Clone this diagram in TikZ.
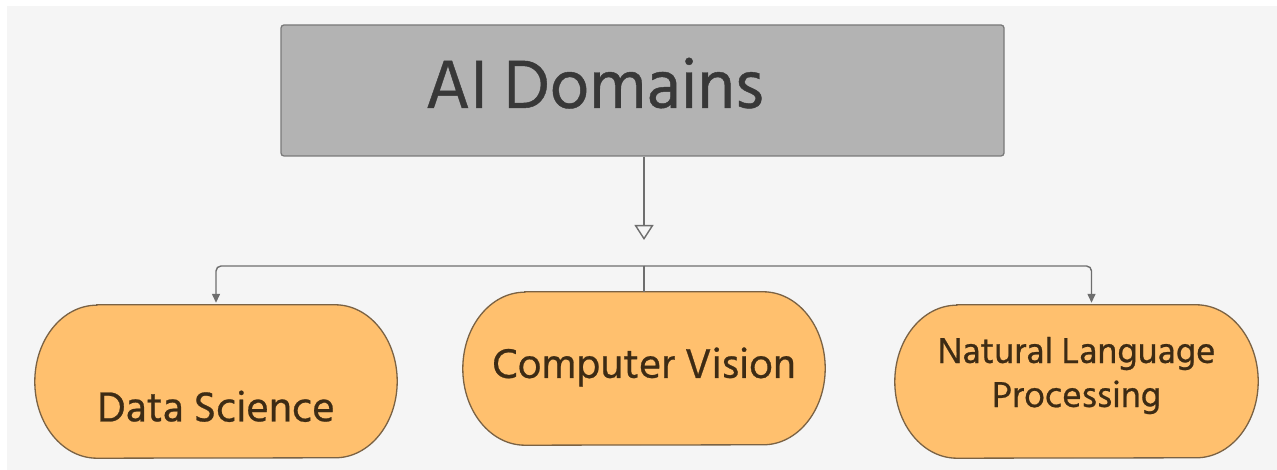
\documentclass[tikz,border=0pt]{standalone}
\usepackage{fontspec}
\setmainfont{Hind Siliguri}[FakeBold=0.6]
\usetikzlibrary{arrows.meta,calc,backgrounds}
\definecolor{bgc}{HTML}{F5F5F5}
\definecolor{topfill}{HTML}{B3B3B3}
\definecolor{topline}{HTML}{7A7A7A}
\definecolor{pillfill}{HTML}{FFC06E}
\definecolor{pillline}{HTML}{7A6244}
\definecolor{pilltext}{HTML}{3D2B14}
\definecolor{conn}{HTML}{6E6E6E}
\tikzset{
  topbox/.style={rectangle, rounded corners=3pt, fill=topfill, draw=topline, line width=1.3pt,
    minimum width=723pt, minimum height=131pt, inner sep=0pt, text=black!78,
    font=\fontsize{70}{80}\selectfont},
  pill/.style={rectangle, inner sep=0pt, minimum width=362pt, minimum height=153pt,
    text=pilltext, align=center},
  pillshape/.style={fill=pillfill, draw=pillline, line width=1.3pt},
  conline/.style={draw=conn, line width=1.4pt},
  smallarrow/.style={-{Triangle[width=8pt,length=9pt]}},
  bigarrow/.style={-{Triangle[open,width=19pt,length=15pt,line width=1.4pt]}}
}
\begin{document}
\begin{tikzpicture}[x=1pt,y=1pt]
\useasboundingbox (0,0) rectangle (1277,470);

\node[topbox, text height=35pt, text depth=0pt] (top) at (642.5,379.5) {AI Domains\hspace*{96pt}};

\node[pill, font=\fontsize{43}{44}\selectfont, text height=80pt, text depth=0pt] (ds) at (216,88.5) {Data Science};
\node[pill, font=\fontsize{42.5}{44}\selectfont, text height=19pt, text depth=0pt] (cv) at (644,101.5) {Computer Vision};
\node[pill, minimum width=363pt, font=\fontsize{37}{44}\selectfont, text depth=19pt] (nlp) at (1076.5,88.5) {Natural Language\\Processing};

\begin{scope}[on background layer]
  \fill[white] (0,0) rectangle (1277,470);
  \fill[bgc] (7,0) rectangle (1277,464);
  \foreach \n in {ds,cv,nlp}{
    \draw[pillshape] ($(\n.north west)+(62,0)$) -- ($(\n.north east)+(-62,0)$)
      arc[start angle=90,end angle=-90,x radius=62,y radius=76.5]
      -- ($(\n.south west)+(62,0)$)
      arc[start angle=270,end angle=90,x radius=62,y radius=76.5] -- cycle;
  }
\end{scope}

\coordinate (tip) at (644,230);
\coordinate (bus) at (644,204);
\coordinate (nlpin) at ($(nlp.north)+(15,0)$);

\draw[conline, bigarrow] (top.south -| tip) -- (tip);
\draw[conline] (bus) -- (cv.north);
\draw[conline, smallarrow, rounded corners=5pt, shorten >=2pt] (bus) -| (ds.north);
\draw[conline, smallarrow, rounded corners=5pt, shorten >=2pt] (bus) -| (nlpin);
\end{tikzpicture}
\end{document}
